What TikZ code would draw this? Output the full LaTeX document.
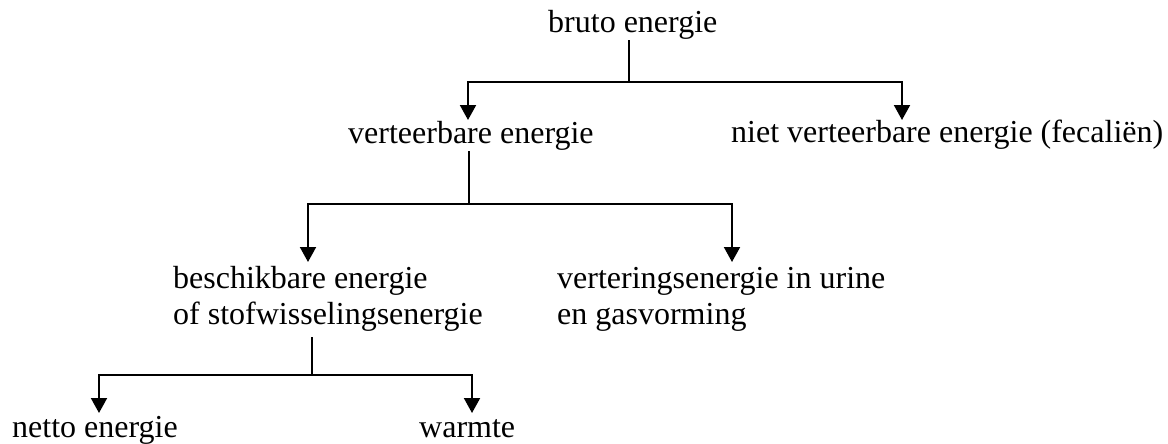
\documentclass[tikz,border=0pt]{standalone}
\usepackage{fontspec}
\setmainfont{Liberation Serif}
\usetikzlibrary{arrows.meta}

\begin{document}
\begin{tikzpicture}[x=1pt,y=-1pt,
  lbl/.style={inner sep=0pt,anchor=base west,align=left,font=\fontsize{32}{36}\selectfont},
  stem/.style={line width=1.3pt},
  arr/.style={line width=2pt,-{Triangle[width=16pt,length=15pt]}}]

% white page with the size of the original
\useasboundingbox (0,0) rectangle (1168,444);

% labels (two-line labels sit on the baseline of their last line)
\node[lbl] (bruto) at (548,33) {bruto energie};
\node[lbl] (verteerbaar) at (348,143) {verteerbare energie};
\node[lbl] (nietvert) at (731,142) {niet verteerbare energie (fecaliën)};
\node[lbl] (beschikbaar) at (173,324) {beschikbare energie\\of stofwisselingsenergie};
\node[lbl] (vertering) at (557,324) {verteringsenergie in urine\\en gasvorming};
\node[lbl] (netto) at (12,437) {netto energie};
\node[lbl] (warmte) at (419,437) {warmte};

% branch points and arrow tips
\coordinate (j1) at (629,82);
\coordinate (j2) at (469,204);
\coordinate (j3) at (312,375);
\coordinate (t1) at (468,120);
\coordinate (t2) at (902,120);
\coordinate (t3) at (308,262);
\coordinate (t4) at (732,262);
\coordinate (t5) at (99,413);
\coordinate (t6) at (472,413);

% stems
\draw[stem] (j1 |- bruto.south) -- (j1);
\draw[stem] ([yshift=-1pt]j2 |- verteerbaar.south) -- (j2);
\draw[stem] ([yshift=-6pt]j3 |- beschikbaar.south) -- (j3);

% arrows
\draw[arr] (j1) -| (t1);
\draw[arr] (j1) -| (t2);
\draw[arr] (j2) -| (t3);
\draw[arr] (j2) -| (t4);
\draw[arr] (j3) -| (t5);
\draw[arr] (j3) -| (t6);

\end{tikzpicture}
\end{document}
